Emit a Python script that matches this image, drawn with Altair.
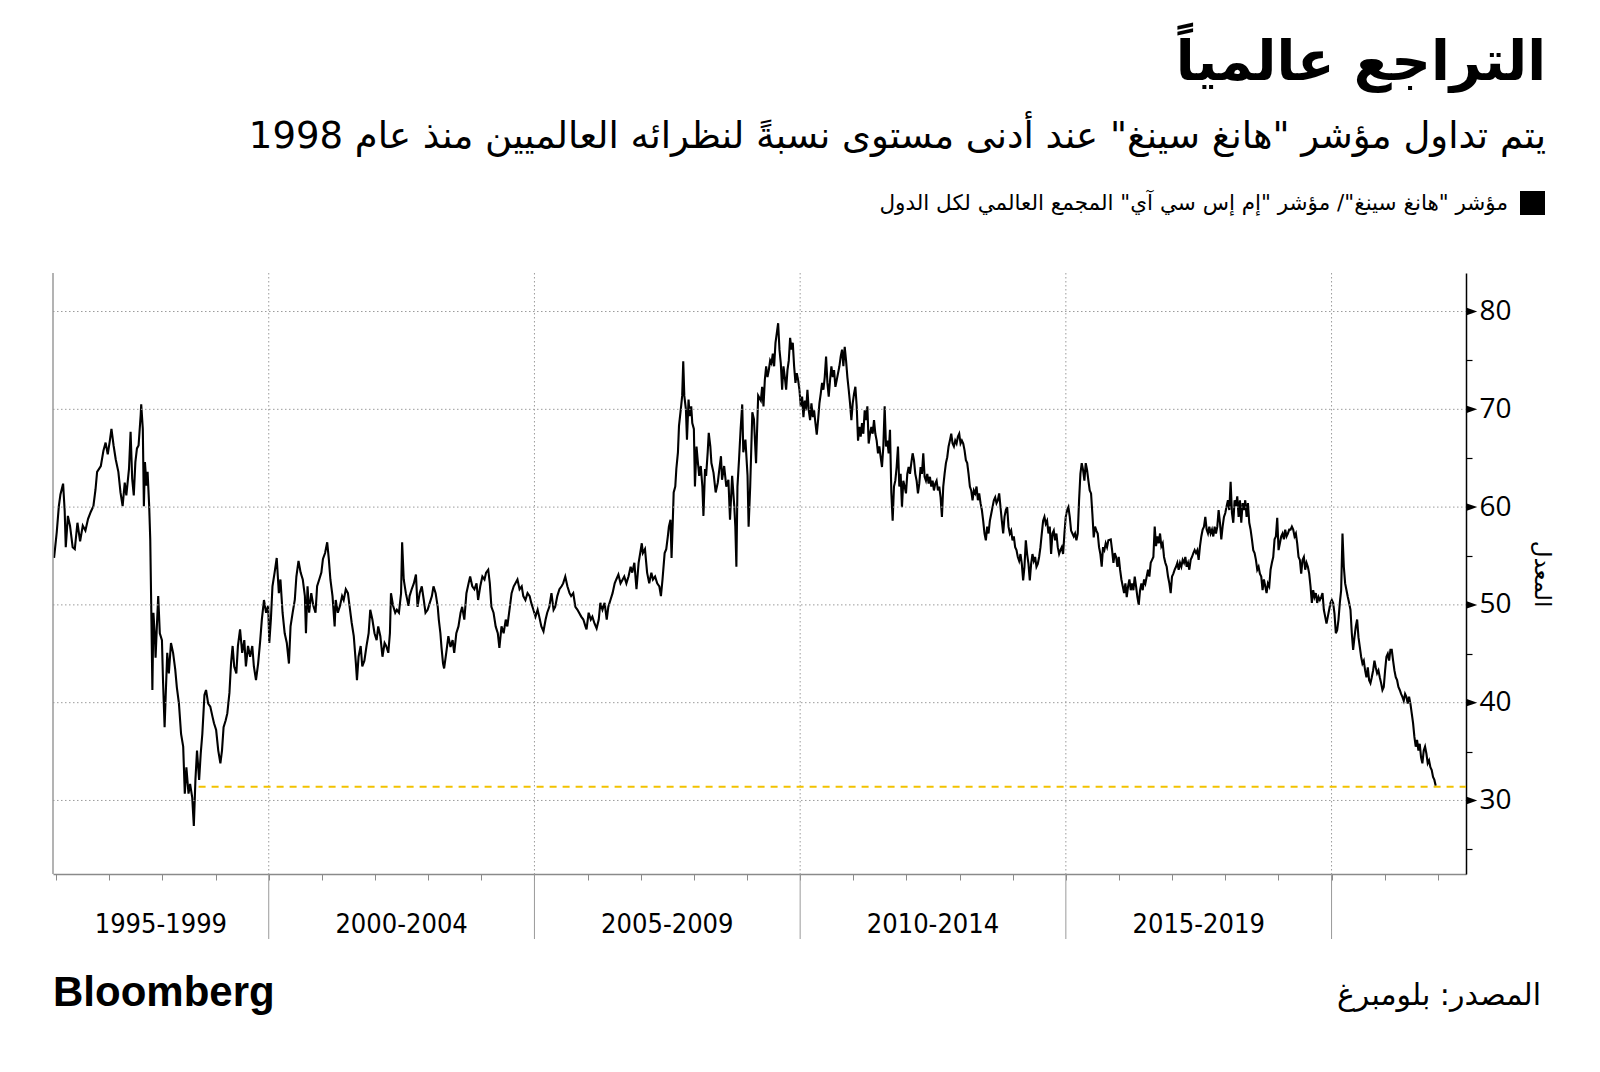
import altair as alt
import pandas as pd
import numpy as np

# ---------------- texts ----------------
TITLE = "التراجع عالمياً"
SUBTITLE = 'يتم تداول مؤشر "هانغ سينغ" عند أدنى مستوى نسبةً لنظرائه العالميين منذ عام 1998'
LEGEND_LABEL = 'مؤشر "هانغ سينغ"/ مؤشر "إم إس سي آي" المجمع العالمي لكل الدول'
Y_TITLE = "المعدل"
SOURCE = "المصدر: بلومبرغ"
BRAND = "Bloomberg"

# ---------------- axes / categories ----------------
PERIOD_LABELS = ["1995-1999", "2000-2004", "2005-2009", "2010-2014", "2015-2019"]
PERIOD_STARTS = [1995, 2000, 2005, 2010, 2015]
PERIOD_ENDS = [2000, 2005, 2010, 2015, 2020]
SEPARATORS = [2000, 2005, 2010, 2015, 2020]
YEAR_TICKS = list(range(1996, 2023))
Y_MAJOR = [30, 40, 50, 60, 70, 80]
Y_TICKS = [25, 30, 35, 40, 45, 50, 55, 60, 65, 70, 75, 80]
X_DOMAIN = [1995.94, 2022.53]
Y_DOMAIN = [22.48, 83.94]

# lowest-level marker
LOW_LEVEL = 31.4
LOW_FROM = 1998.68

# ---------------- series (Hang Seng / MSCI ACWI ratio) ----------------
SEG_1996_2002 = [
    (1995.96, 54.8), (1996.01, 57.4), (1996.05, 60.1), (1996.08, 61.3), (1996.13, 62.4), (1996.16, 59.6),
    (1996.18, 55.9), (1996.22, 59.1), (1996.26, 58.1), (1996.31, 55.9), (1996.35, 55.7), (1996.40, 58.4),
    (1996.45, 56.5), (1996.50, 58.1), (1996.55, 57.6), (1996.60, 58.8), (1996.65, 59.5), (1996.70, 60.1),
    (1996.74, 61.8), (1996.77, 63.6), (1996.84, 64.2), (1996.89, 65.8), (1996.93, 66.6), (1996.97, 65.4),
    (1997.01, 66.8), (1997.04, 68.0), (1997.08, 66.3), (1997.12, 64.9), (1997.17, 63.6), (1997.21, 61.5),
    (1997.25, 60.1), (1997.29, 62.5), (1997.32, 61.2), (1997.37, 63.9), (1997.40, 67.7), (1997.43, 62.9),
    (1997.46, 61.2), (1997.49, 64.6), (1997.52, 66.0), (1997.55, 66.3), (1997.59, 69.4), (1997.60, 70.5),
    (1997.63, 68.0), (1997.65, 60.1), (1997.67, 64.6), (1997.70, 62.2), (1997.72, 63.6), (1997.75, 60.1),
    (1997.77, 56.7), (1997.785, 51.2), (1997.80, 45.4), (1997.81, 41.3), (1997.83, 49.2), (1997.86, 46.4),
    (1997.87, 44.6), (1997.90, 48.5), (1997.92, 50.9), (1997.95, 47.1), (1997.99, 46.4), (1998.01, 42.3),
    (1998.04, 37.5), (1998.06, 40.6), (1998.09, 45.1), (1998.12, 43.0), (1998.16, 46.1), (1998.20, 45.1),
    (1998.24, 43.4), (1998.27, 41.6), (1998.31, 39.9), (1998.35, 36.8), (1998.39, 35.5), (1998.42, 30.7),
    (1998.45, 33.4), (1998.49, 30.7), (1998.52, 31.7), (1998.56, 30.3), (1998.59, 27.4), (1998.62, 32.1),
    (1998.65, 35.1), (1998.69, 32.1), (1998.72, 34.8), (1998.75, 36.8), (1998.79, 40.8), (1998.82, 41.3),
    (1998.86, 39.9), (1998.90, 39.6), (1998.94, 38.6), (1998.97, 37.9), (1999.01, 37.2), (1999.05, 35.1),
    (1999.09, 33.8), (1999.12, 35.1), (1999.15, 37.5), (1999.19, 38.2), (1999.22, 38.9), (1999.26, 41.0),
    (1999.29, 44.0), (1999.32, 45.8), (1999.35, 43.7), (1999.39, 43.0), (1999.42, 45.8), (1999.46, 47.5),
    (1999.50, 45.1), (1999.54, 46.4), (1999.57, 43.7), (1999.61, 45.8), (1999.65, 44.7), (1999.69, 45.8),
    (1999.72, 43.7), (1999.76, 42.3), (1999.80, 44.0), (1999.84, 46.4), (1999.87, 48.5), (1999.91, 50.5),
    (1999.95, 49.2), (1999.99, 49.9), (2000.01, 46.1), (2000.04, 48.5), (2000.07, 51.9), (2000.11, 53.3),
    (2000.15, 54.8), (2000.19, 51.2), (2000.22, 52.6), (2000.26, 49.2), (2000.30, 47.1), (2000.34, 46.1),
    (2000.38, 44.0), (2000.41, 47.8), (2000.45, 49.2), (2000.49, 50.5), (2000.52, 52.9), (2000.56, 54.5),
    (2000.60, 53.3), (2000.64, 52.6), (2000.68, 50.9), (2000.70, 47.1), (2000.73, 51.9), (2000.76, 49.2),
    (2000.80, 51.2), (2000.84, 49.9), (2000.88, 49.2), (2000.91, 51.9), (2000.95, 52.6), (2000.99, 53.3),
    (2001.02, 54.7), (2001.06, 55.3), (2001.10, 56.4), (2001.13, 54.7), (2001.16, 52.6), (2001.20, 50.9),
    (2001.24, 47.8), (2001.26, 50.5), (2001.30, 49.2), (2001.34, 49.9), (2001.38, 50.9), (2001.41, 50.5),
    (2001.45, 51.6), (2001.49, 51.2), (2001.53, 49.5), (2001.56, 48.2), (2001.60, 46.8), (2001.64, 44.0),
    (2001.66, 42.3), (2001.69, 44.7), (2001.73, 45.8), (2001.76, 43.7), (2001.80, 44.3), (2001.84, 45.8),
    (2001.88, 47.1), (2001.91, 49.5), (2001.95, 48.5), (2001.99, 47.1), (2002.03, 46.4), (2002.06, 47.8),
    (2002.10, 46.8), (2002.14, 44.7), (2002.18, 46.1), (2002.21, 45.8), (2002.25, 45.1), (2002.28, 47.1),
    (2002.30, 51.2), (2002.34, 49.9), (2002.38, 49.2), (2002.41, 49.5), (2002.45, 49.2), (2002.49, 51.2),
    (2002.51, 56.4), (2002.54, 52.6), (2002.58, 51.2), (2002.63, 49.9),
]

SEG_2002_2009 = [
    (2002.65, 50.9), (2002.69, 51.6), (2002.73, 52.2), (2002.77, 53.1), (2002.80, 49.8), (2002.84, 51.2),
    (2002.88, 51.9), (2002.92, 50.4), (2002.95, 49.2), (2002.99, 49.5), (2003.03, 50.2), (2003.07, 50.9),
    (2003.10, 51.9), (2003.14, 51.2), (2003.18, 49.8), (2003.20, 48.5), (2003.23, 47.1), (2003.25, 45.7),
    (2003.28, 44.0), (2003.30, 43.5), (2003.34, 45.1), (2003.38, 46.8), (2003.42, 45.7), (2003.46, 46.4),
    (2003.49, 45.1), (2003.53, 47.1), (2003.57, 47.8), (2003.61, 49.2), (2003.64, 49.8), (2003.68, 48.5),
    (2003.72, 51.2), (2003.76, 52.2), (2003.79, 52.9), (2003.83, 51.9), (2003.87, 51.6), (2003.91, 52.2),
    (2003.94, 50.5), (2003.98, 51.9), (2004.02, 52.9), (2004.06, 52.6), (2004.09, 53.3), (2004.13, 53.6),
    (2004.16, 52.2), (2004.19, 49.8), (2004.23, 49.2), (2004.27, 47.8), (2004.31, 47.1), (2004.34, 45.6),
    (2004.38, 47.8), (2004.42, 47.1), (2004.46, 48.5), (2004.49, 47.8), (2004.53, 49.5), (2004.57, 51.2),
    (2004.61, 51.9), (2004.64, 52.2), (2004.68, 52.6), (2004.72, 51.6), (2004.76, 51.9), (2004.79, 50.9),
    (2004.83, 50.5), (2004.87, 51.2), (2004.91, 50.9), (2004.94, 50.2), (2004.98, 49.5), (2005.02, 48.8),
    (2005.06, 49.5), (2005.09, 48.8), (2005.13, 47.8), (2005.17, 47.3), (2005.21, 48.5), (2005.24, 49.2),
    (2005.28, 49.8), (2005.32, 51.2), (2005.36, 49.5), (2005.39, 49.8), (2005.43, 50.9), (2005.47, 51.6),
    (2005.51, 51.9), (2005.54, 52.2), (2005.58, 52.9), (2005.62, 51.9), (2005.66, 51.2), (2005.69, 50.9),
    (2005.73, 51.2), (2005.77, 49.8), (2005.81, 49.5), (2005.84, 49.2), (2005.88, 48.8), (2005.92, 48.5),
    (2005.96, 47.8), (2005.98, 47.5), (2006.02, 49.2), (2006.06, 48.5), (2006.09, 48.8), (2006.13, 48.1),
    (2006.17, 47.6), (2006.21, 48.5), (2006.24, 50.2), (2006.28, 49.5), (2006.32, 50.2), (2006.36, 48.5),
    (2006.39, 49.8), (2006.43, 50.5), (2006.47, 51.2), (2006.51, 52.2), (2006.54, 52.6), (2006.58, 53.1),
    (2006.62, 52.2), (2006.66, 52.6), (2006.69, 52.9), (2006.73, 52.2), (2006.77, 52.9), (2006.81, 53.9),
    (2006.84, 53.3), (2006.88, 54.3), (2006.92, 51.6), (2006.96, 54.3), (2006.99, 55.3), (2007.02, 56.3),
    (2007.04, 55.3), (2007.08, 55.7), (2007.12, 53.3), (2007.16, 52.2), (2007.20, 53.3), (2007.23, 52.6),
    (2007.27, 52.9), (2007.31, 52.2), (2007.35, 51.9), (2007.38, 50.9), (2007.41, 52.6), (2007.45, 55.3),
    (2007.48, 55.7), (2007.51, 57.0), (2007.53, 58.0), (2007.56, 58.7), (2007.58, 54.8), (2007.60, 58.0),
    (2007.62, 61.5), (2007.65, 62.1), (2007.67, 63.9), (2007.70, 65.6), (2007.72, 68.3), (2007.76, 70.3),
    (2007.78, 71.4), (2007.80, 74.9), (2007.82, 71.4), (2007.85, 70.0), (2007.87, 66.9), (2007.90, 71.0),
    (2007.92, 69.3), (2007.95, 70.3), (2007.97, 68.6), (2008.00, 68.0), (2008.02, 62.1), (2008.05, 66.2),
    (2008.07, 64.9), (2008.10, 63.2), (2008.13, 64.2), (2008.16, 62.1), (2008.18, 59.1), (2008.21, 63.9),
    (2008.23, 63.2), (2008.26, 65.6), (2008.28, 67.6), (2008.31, 66.2), (2008.33, 64.5), (2008.37, 63.5),
    (2008.41, 61.5), (2008.45, 62.5), (2008.48, 63.9), (2008.51, 65.2), (2008.53, 62.8), (2008.57, 64.2),
    (2008.61, 62.1), (2008.65, 62.8), (2008.68, 58.7), (2008.72, 63.2), (2008.76, 60.1), (2008.78, 58.0),
    (2008.80, 53.9), (2008.82, 62.1), (2008.85, 64.9), (2008.88, 68.0), (2008.91, 70.5), (2008.93, 65.6),
    (2008.97, 66.9), (2009.01, 63.2), (2009.03, 58.0), (2009.06, 62.1), (2009.10, 69.7), (2009.13, 69.0),
    (2009.17, 64.5), (2009.21, 71.4),
]

# evenly spaced readings, 2009.26 -> 2015.80
SEG_2009_2015_RANGE = (2009.26, 2015.80)
SEG_2009_2015 = [
    70.9, 72.3, 70.3, 73.0, 74.4, 73.3, 74.0, 75.0, 74.7, 75.7, 74.4, 76.8, 77.8, 78.8, 76.1, 74.7,
    72.0, 74.4, 73.3, 72.0, 74.0, 75.0, 77.3, 76.1, 76.8, 74.4, 72.7, 73.7, 73.0, 72.0, 70.3, 71.3,
    69.2, 70.9, 69.9, 72.0, 69.9, 68.9, 70.6, 69.2, 69.9, 68.6, 67.4, 68.9, 70.6, 71.6, 72.7, 72.0,
    73.3, 75.4, 72.7, 71.3, 73.0, 74.4, 73.3, 74.0, 72.3, 73.0, 73.7, 74.4, 75.4, 76.1, 74.4, 76.4,
    75.0, 73.3, 72.0, 70.6, 68.9, 70.6, 71.6, 72.3, 70.3, 66.8, 68.2, 67.2, 68.6, 67.5, 69.9, 68.9,
    70.3, 66.5, 67.5, 68.2, 67.5, 68.9, 67.5, 66.8, 65.5, 66.2, 65.1, 64.1,
    66.2, 70.3, 66.2, 66.8, 65.5, 67.9, 61.5, 58.6, 62.1, 62.7, 64.1, 66.2, 62.1, 63.4, 60.0, 62.7,
    62.1, 61.4, 63.4, 64.1, 63.4, 64.5, 65.5, 64.8, 63.4, 62.7, 61.4, 62.4, 64.1, 63.4, 65.5, 63.1,
    62.7, 63.4, 62.4, 63.1, 62.1, 62.7, 61.7, 62.4, 62.7, 61.7, 62.1, 61.0, 59.0, 62.1, 63.4, 64.5,
    65.1, 66.2, 66.8, 67.5, 66.5, 66.2, 66.8, 66.5, 67.2, 67.5, 66.5, 66.8, 66.5, 65.8, 64.8, 64.5,
    63.4, 62.1, 61.7, 60.7, 61.7, 61.4, 62.1, 60.7, 61.4, 60.4, 59.7, 58.6, 57.3, 56.6, 58.0, 57.3,
    58.6, 59.3, 60.0, 60.7, 61.0, 60.4, 60.7, 61.4, 60.0, 58.6, 57.3, 59.0, 59.7, 60.0, 58.0, 57.3,
    57.6, 56.6, 57.0, 55.9, 55.6, 54.9, 54.5, 55.2, 54.2, 52.5, 53.9, 56.6, 55.2, 54.2, 52.5, 54.2,
    55.2, 54.5, 54.9, 53.9, 54.2, 54.9, 55.9, 57.3, 58.6, 59.0, 58.3, 58.6, 57.3, 58.0, 55.2, 57.3,
    57.6, 56.6, 57.3, 55.9, 55.2, 55.6, 55.9, 55.2, 57.3, 59.0, 59.7, 60.0, 59.0, 57.6, 57.3, 57.0,
    57.3, 56.6, 57.3, 60.7, 63.4, 64.5, 63.8, 62.7, 64.5, 63.8, 62.7, 61.7, 61.4, 59.3,
    56.9, 58.0, 57.6, 57.3, 55.9, 55.2, 53.9, 55.9, 55.6, 56.3, 55.9, 56.6,
]

# evenly spaced readings, 2015.845 -> 2021.96
SEG_2015_2022_RANGE = (2015.845, 2021.96)
SEG_2015_2022 = [
    56.7, 55.6, 54.3, 55.3, 54.9, 53.9, 54.9, 53.6, 52.6, 51.9, 51.2, 52.2, 50.8, 51.9, 52.6, 51.5,
    52.2, 51.5, 52.9, 51.9, 50.8, 50.0, 51.5, 52.2, 51.5, 52.6, 52.2, 52.9, 53.6, 52.9, 54.3, 54.6,
    54.9, 58.0, 56.0, 57.0, 56.3, 57.3, 56.0, 56.3, 54.9, 54.3, 53.9, 52.9, 52.2, 51.2, 52.9, 53.2,
    53.6, 53.9, 54.3, 53.6, 54.3, 53.9, 54.6, 54.3, 54.9, 53.9, 54.3, 53.6, 54.6, 54.9, 55.3, 55.6,
    55.3, 55.6, 54.6, 56.0, 57.0, 57.7, 58.0, 59.0, 57.7, 57.3, 58.0, 57.3, 57.7, 57.0, 58.0, 57.3,
    58.0, 59.7, 58.4, 56.7, 58.0, 59.0, 59.4, 60.1, 60.7, 59.7, 62.6, 59.4, 58.4, 60.7, 60.1, 61.1,
    59.0, 60.7, 58.4, 60.4, 59.7, 60.7, 59.0, 60.4, 58.4, 57.7, 56.7, 55.6, 55.3, 54.6, 53.6, 53.9,
    53.2, 52.9, 51.5, 52.6, 51.9, 51.2, 52.2, 51.9, 53.6, 54.3, 54.9, 56.7, 57.0, 58.9, 55.6, 56.3,
    57.0, 57.3, 56.7, 57.7, 57.0, 57.3, 57.7, 57.7, 58.0, 57.7, 57.0, 57.3, 56.3, 54.9, 54.6, 53.2,
    54.6, 54.9, 53.6, 54.3, 53.9, 53.2, 51.9, 50.2, 51.5, 50.8, 51.2, 50.2, 50.8, 50.5, 50.8, 51.2,
    49.5, 48.8, 48.1, 48.8, 49.5, 50.2, 50.5, 50.2, 49.1, 47.1, 47.4, 48.5, 50.2, 51.5, 57.3, 53.9,
    52.2, 51.5, 50.8, 50.2, 49.5, 47.1, 45.4, 46.7, 47.8, 48.5, 46.7, 45.7, 44.7, 44.0, 44.3, 43.3,
    42.6, 43.6, 42.3, 42.0, 42.6, 43.3, 44.3, 43.6, 43.0, 43.3, 42.6, 42.0, 41.3, 41.6, 43.3, 44.7,
    45.0, 44.3, 45.4, 45.4, 44.3, 43.3, 42.6, 42.3, 41.6, 41.3, 40.9, 40.6, 40.2, 40.9, 40.6, 39.9,
    40.6, 39.9, 38.9, 37.9, 36.5, 35.5, 36.2, 35.1, 35.8, 34.4, 33.8, 35.1, 35.5, 34.8, 33.8, 34.1,
    33.4, 33.1, 32.4, 32.1, 31.5,
]

# ---------------- build tables ----------------
rows = list(SEG_1996_2002) + list(SEG_2002_2009)
rows += list(zip(np.linspace(*SEG_2009_2015_RANGE, len(SEG_2009_2015)), SEG_2009_2015))
rows += list(zip(np.linspace(*SEG_2015_2022_RANGE, len(SEG_2015_2022)), SEG_2015_2022))
series = pd.DataFrame(rows, columns=["yr", "val"])

W, H = 1413, 601
ARABIC = "DejaVu Sans"
LATIN = "Open Sans"
GRID = "#9b9b9b"

xs = alt.Scale(domain=X_DOMAIN, nice=False, zero=False)
ys = alt.Scale(domain=Y_DOMAIN, nice=False, zero=False)

one = pd.DataFrame({"k": [0]})

# main line carries both axes
line = alt.Chart(series).mark_line(color="black", strokeWidth=2.1, strokeJoin="miter").encode(
    x=alt.X(
        "yr:Q",
        scale=xs,
        axis=alt.Axis(
            values=YEAR_TICKS, labels=False, ticks=True, tickSize=6, tickColor="#8a8a8a",
            tickWidth=1, domainColor="#8a8a8a", domainWidth=1.5, grid=False, title=None,
        ),
    ),
    y=alt.Y(
        "val:Q",
        scale=ys,
        axis=alt.Axis(
            orient="right", values=Y_TICKS,
            labelExpr="datum.value % 10 == 0 ? datum.label : ''",
            tickSize=6, tickColor="black", tickWidth=1.2, domainColor="black", domainWidth=1.5,
            labelFont=LATIN, labelFontSize=28, labelColor="black", labelPadding=7,
            grid=False, title=Y_TITLE, titleFont=ARABIC, titleFontSize=23,
            titleFontWeight="normal", titleColor="black", titlePadding=18,
        ),
    ),
)

# grid lines
vgrid = alt.Chart(pd.DataFrame({"yr": SEPARATORS})).mark_rule(
    color=GRID, strokeWidth=1, strokeDash=[1.5, 2.5]
).encode(x=alt.X("yr:Q", scale=xs), y=alt.value(0), y2=alt.value(H))

hgrid = alt.Chart(pd.DataFrame({"val": Y_MAJOR})).mark_rule(
    color=GRID, strokeWidth=1, strokeDash=[1.5, 2.5]
).encode(y=alt.Y("val:Q", scale=ys), x=alt.value(0), x2=alt.value(W))

left_edge = alt.Chart(one).mark_rule(color="#9a9a9a", strokeWidth=1.5).encode(
    x=alt.value(0), y=alt.value(0), y2=alt.value(H)
)

# lowest level dashed line
low = alt.Chart(pd.DataFrame({"yr": [LOW_FROM], "yr_end": [X_DOMAIN[1]], "val": [LOW_LEVEL]})).mark_rule(
    color="#f2c200", strokeWidth=2, strokeDash=[7, 6]
).encode(x=alt.X("yr:Q", scale=xs), x2="yr_end:Q", y=alt.Y("val:Q", scale=ys))

# triangle markers on major ticks
tri = alt.Chart(pd.DataFrame({"val": Y_MAJOR})).mark_point(
    shape="M-1,-0.7L1,0L-1,0.7Z", filled=True, color="black", size=110, opacity=1
).encode(y=alt.Y("val:Q", scale=ys), x=alt.value(W + 6))

# period separators and labels below the axis
seps = alt.Chart(pd.DataFrame({"yr": SEPARATORS})).mark_rule(color="#9a9a9a", strokeWidth=1).encode(
    x=alt.X("yr:Q", scale=xs), y=alt.value(H), y2=alt.value(H + 65)
)
periods = pd.DataFrame({"label": PERIOD_LABELS, "start": PERIOD_STARTS, "end": PERIOD_ENDS})
periods["yr"] = (periods["start"].clip(lower=X_DOMAIN[0]) + periods["end"]) / 2
plabels = alt.Chart(periods).mark_text(
    font="DejaVu Sans Condensed, DejaVu Sans", fontSize=27, color="black", baseline="middle", align="center"
).encode(x=alt.X("yr:Q", scale=xs), y=alt.value(H + 51), text="label:N")

# header and footer
def txt(s, x, y, size, align="right", weight="normal", font=ARABIC, baseline="alphabetic"):
    return alt.Chart(one).mark_text(
        text=s, font=font, fontSize=size, fontWeight=weight, align=align,
        baseline=baseline, color="black",
    ).encode(x=alt.value(x), y=alt.value(y))

title = txt(TITLE, W + 80, -193, 55, weight="bold")
subtitle = txt(SUBTITLE, W + 80, -125, 37)
legend_sq = alt.Chart(one).mark_rect(color="black").encode(
    x=alt.value(W + 54), x2=alt.value(W + 79), y=alt.value(-82), y2=alt.value(-58)
)
legend_txt = txt(LEGEND_LABEL, W + 42, -69, 21.5, baseline="middle")
brand = txt(BRAND, 0, 733, 42, align="left", weight="bold", font="Liberation Sans")
source = txt(SOURCE, W + 75, 732, 30)

chart = alt.layer(
    line, vgrid, hgrid, left_edge, low, tri, seps, plabels,
    title, subtitle, legend_sq, legend_txt, brand, source,
).properties(
    width=W, height=H,
    autosize=alt.AutoSizeParams(type="none"),
    padding={"left": 45, "top": 265, "right": 126, "bottom": 190},
    background="white",
).configure_view(strokeWidth=0)

chart.save("out.html", embed_options={"renderer": "svg", "actions": False})
